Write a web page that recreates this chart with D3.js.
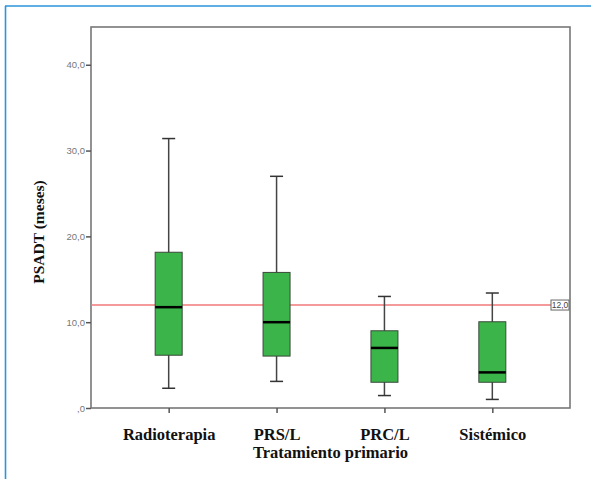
<!DOCTYPE html>
<html>
<head>
<meta charset="utf-8">
<script src="https://cdn.jsdelivr.net/npm/d3@7"></script>
<style>
  body { margin: 0; background: #fff; }
</style>
</head>
<body>
<div id="chart"></div>
<script>
// data
const categories = ["Radioterapia", "PRS/L", "PRC/L", "Sistémico"];
const whiskerLow = [2.3, 3.1, 1.45, 1.0];
const q1 = [6.15, 6.05, 3.0, 3.0];
const median = [11.75, 10.0, 7.0, 4.15];
const q3 = [18.15, 15.8, 9.0, 10.05];
const whiskerHigh = [31.4, 27.0, 13.0, 13.4];
const yTicks = [0, 10, 20, 30, 40];
const refValue = 12;

const W = 591, H = 479;
const margin = { top: 27, right: 21, bottom: 71, left: 91 };
const width = W - margin.left - margin.right,
  height = H - margin.top - margin.bottom;

const root = d3.select("#chart").append("svg")
  .attr("width", W).attr("height", H);

// blue frame of the figure
root.append("line").attr("x1", 5).attr("x2", W).attr("y1", 6).attr("y2", 6)
  .attr("stroke", "#2a95dc").attr("stroke-width", 1.6);
root.append("line").attr("x1", 5.5).attr("x2", 5.5).attr("y1", 6).attr("y2", H)
  .attr("stroke", "#2a95dc").attr("stroke-width", 1.6);

const svg = root.append("g")
  .attr("transform", `translate(${margin.left}, ${margin.top})`);

const x = d3.scalePoint().domain(categories).range([0, width]).padding(0.72);
const y = d3.scaleLinear().domain([0, 44.4]).range([height, 0]);

const fmt = d => d === 0 ? ",0" : d3.format(".1f")(d).replace(".", ",");

// plot frame
svg.append("rect")
  .attr("x", 0).attr("y", 0).attr("width", width).attr("height", height)
  .attr("fill", "none").attr("stroke", "#777").attr("stroke-width", 1.6);

// y axis
const yAxis = svg.append("g")
  .call(d3.axisLeft(y).tickValues(yTicks).tickFormat(fmt).tickSize(5).tickPadding(1));
yAxis.select(".domain").remove();
yAxis.selectAll("line").attr("stroke", "#555").attr("stroke-width", 1.5);
yAxis.selectAll("text")
  .attr("fill", "#777").style("font-family", "Arial, 'Liberation Sans', sans-serif")
  .style("font-size", "9.5px");

// x axis
const xAxis = svg.append("g")
  .attr("transform", `translate(0, ${height})`)
  .call(d3.axisBottom(x).tickSize(5).tickPadding(15));
xAxis.select(".domain").remove();
xAxis.selectAll("line").attr("stroke", "#555").attr("stroke-width", 1.5);
xAxis.selectAll("text")
  .attr("fill", "#111").style("font-family", "'Liberation Serif', 'Times New Roman', serif")
  .style("font-weight", "bold").style("font-size", "16.5px");

// axis titles
svg.append("text")
  .attr("x", (x("PRS/L") + x("PRC/L")) / 2).attr("y", height + 50)
  .attr("text-anchor", "middle").attr("fill", "#111")
  .style("font-family", "'Liberation Serif', 'Times New Roman', serif")
  .style("font-weight", "bold").style("font-size", "16.5px")
  .text("Tratamiento primario");

root.append("text")
  .attr("transform", "translate(44, 232) rotate(-90)")
  .attr("text-anchor", "middle").attr("fill", "#111")
  .style("font-family", "'Liberation Serif', 'Times New Roman', serif")
  .style("font-weight", "bold").style("font-size", "15.5px")
  .text("PSADT (meses)");

// reference line
svg.append("line")
  .attr("x1", 0).attr("x2", width).attr("y1", y(refValue)).attr("y2", y(refValue))
  .attr("stroke", "#f0787a").attr("stroke-width", 1.5);

// boxes
const boxW = 27, capW = 13;
const rows = categories.map((c, i) => ({
  c, lo: whiskerLow[i], q1: q1[i], med: median[i], q3: q3[i], hi: whiskerHigh[i]
}));

const g = svg.selectAll(".box").data(rows).enter().append("g")
  .attr("transform", d => `translate(${x(d.c)}, 0)`);

g.append("line").attr("x1", 0).attr("x2", 0)
  .attr("y1", d => y(d.hi)).attr("y2", d => y(d.lo))
  .attr("stroke", "#444").attr("stroke-width", 1.5);
g.append("line").attr("x1", -capW / 2).attr("x2", capW / 2)
  .attr("y1", d => y(d.hi)).attr("y2", d => y(d.hi))
  .attr("stroke", "#333").attr("stroke-width", 1.5);
g.append("line").attr("x1", -capW / 2).attr("x2", capW / 2)
  .attr("y1", d => y(d.lo)).attr("y2", d => y(d.lo))
  .attr("stroke", "#333").attr("stroke-width", 1.5);
g.append("rect")
  .attr("x", -boxW / 2).attr("width", boxW)
  .attr("y", d => y(d.q3)).attr("height", d => y(d.q1) - y(d.q3))
  .attr("fill", "#3bb44a").attr("stroke", "#3a4a3a").attr("stroke-width", 1);
g.append("line").attr("x1", -boxW / 2).attr("x2", boxW / 2)
  .attr("y1", d => y(d.med)).attr("y2", d => y(d.med))
  .attr("stroke", "#000").attr("stroke-width", 2.5);

// reference label
const lab = svg.append("g")
  .attr("transform", `translate(${width - 19}, ${y(refValue) - 5})`);
lab.append("rect").attr("width", 18).attr("height", 10)
  .attr("fill", "#fff").attr("stroke", "#666").attr("stroke-width", 1);
lab.append("text").attr("x", 9).attr("y", 8.2).attr("text-anchor", "middle")
  .attr("fill", "#444").style("font-family", "Arial, 'Liberation Sans', sans-serif")
  .style("font-size", "8.5px").text(fmt(refValue));
</script>
</body>
</html>
